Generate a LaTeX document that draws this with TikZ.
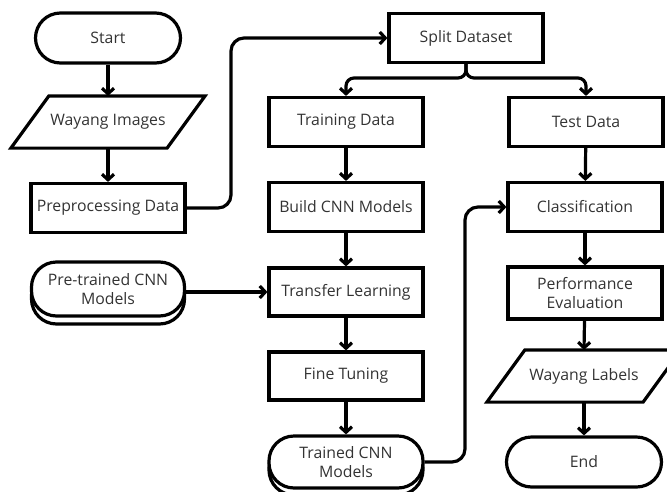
\documentclass[tikz,border=0pt]{standalone}
\usepackage{fontspec}
\setmainfont{Open Sans}
\usetikzlibrary{arrows.meta,calc}
\definecolor{txt}{HTML}{333333}
\tikzset{
  base/.style={line width=3.2pt, align=center, text=txt, inner sep=0pt,
    font=\fontsize{15.8}{19}\selectfont},
  box/.style={base, draw, minimum width=154pt, minimum height=49pt},
  term/.style={base, draw, fill=white, minimum width=150pt, minimum height=50pt, rounded corners=25pt},
  io/.style={base, minimum width=153pt, minimum height=49pt},
  arr/.style={line width=3.2pt, -{Straight Barb[length=5.5pt,width=12pt,line width=3.2pt]}},
}
\begin{document}
\begin{tikzpicture}[x=1pt,y=-1pt]
\useasboundingbox (0,0) rectangle (667,491);
% left column
\node[term, minimum width=145pt] (start) at (108,38) {Start};
\node[io] (wimg) at (108,122) {Wayang Images};
\draw[line width=3.2pt] ($(wimg.north west)+(19,0)$) -- ($(wimg.north east)+(19,0)$)
  -- ($(wimg.south east)+(-19,0)$) -- ($(wimg.south west)+(-19,0)$) -- cycle;
\node[box] (prep) at (108,208) {Preprocessing Data};
\node[term, minimum width=153pt, minimum height=54pt] (preS) at (108,297) {};
\node[term, minimum width=153pt, minimum height=54pt] (pre) at (108,289) {Pre-trained CNN\\Models};
% middle column
\node[box] (split) at (466,38) {Split Dataset};
\node[box] (train) at (346,122) {Training Data};
\node[box] (build) at (346,207) {Build CNN Models};
\node[box, minimum height=48pt] (transfer) at (346,292) {Transfer Learning};
\node[box, minimum height=48pt] (fine) at (346,376) {Fine Tuning};
\node[term, minimum width=154pt, minimum height=52pt] (trainedS) at (346,469) {};
\node[term, minimum width=154pt, minimum height=52pt] (trained) at (346,462) {Trained CNN\\Models};
% right column
\node[box] (test) at (586,122) {Test Data};
\node[box] (class) at (585,207) {Classification};
\node[box, minimum height=52pt] (perf) at (585,293) {Performance\\Evaluation};
\node[io] (wlab) at (584,376) {Wayang Labels};
\draw[line width=3.2pt] ($(wlab.north west)+(19,0)$) -- ($(wlab.north east)+(19,0)$)
  -- ($(wlab.south east)+(-19,0)$) -- ($(wlab.south west)+(-19,0)$) -- cycle;
\node[term, minimum width=155pt] (end) at (584,462) {End};
% coordinates
\coordinate (c1) at (231,38);
\coordinate (j) at (466,78);
\coordinate (c2) at (465,207);
% connectors
\draw[arr] (start) -- (wimg.north);
\draw[arr] (wimg.south) -- (prep);
\draw[arr, rounded corners=13pt] (prep.east) -| (c1) -- (split.west);
\draw[arr, rounded corners=8pt] (split.south) -- (j) -| (train.north);
\draw[arr, rounded corners=8pt] (split.south) -- (j) -| (test.north);
\draw[arr] (train) -- (build);
\draw[arr] (build) -- (transfer);
\draw[arr] (pre.east |- transfer.west) -- (transfer.west);
\draw[arr] (transfer) -- (fine);
\draw[arr] (fine) -- (trained);
\draw[arr, rounded corners=13pt] (trained.east) -| (c2) -- (class.west);
\draw[arr] (test) -- (class);
\draw[arr] (class) -- (perf);
\draw[arr] (perf) -- (wlab.north);
\draw[arr] (wlab.south) -- (end);
\end{tikzpicture}
\end{document}
